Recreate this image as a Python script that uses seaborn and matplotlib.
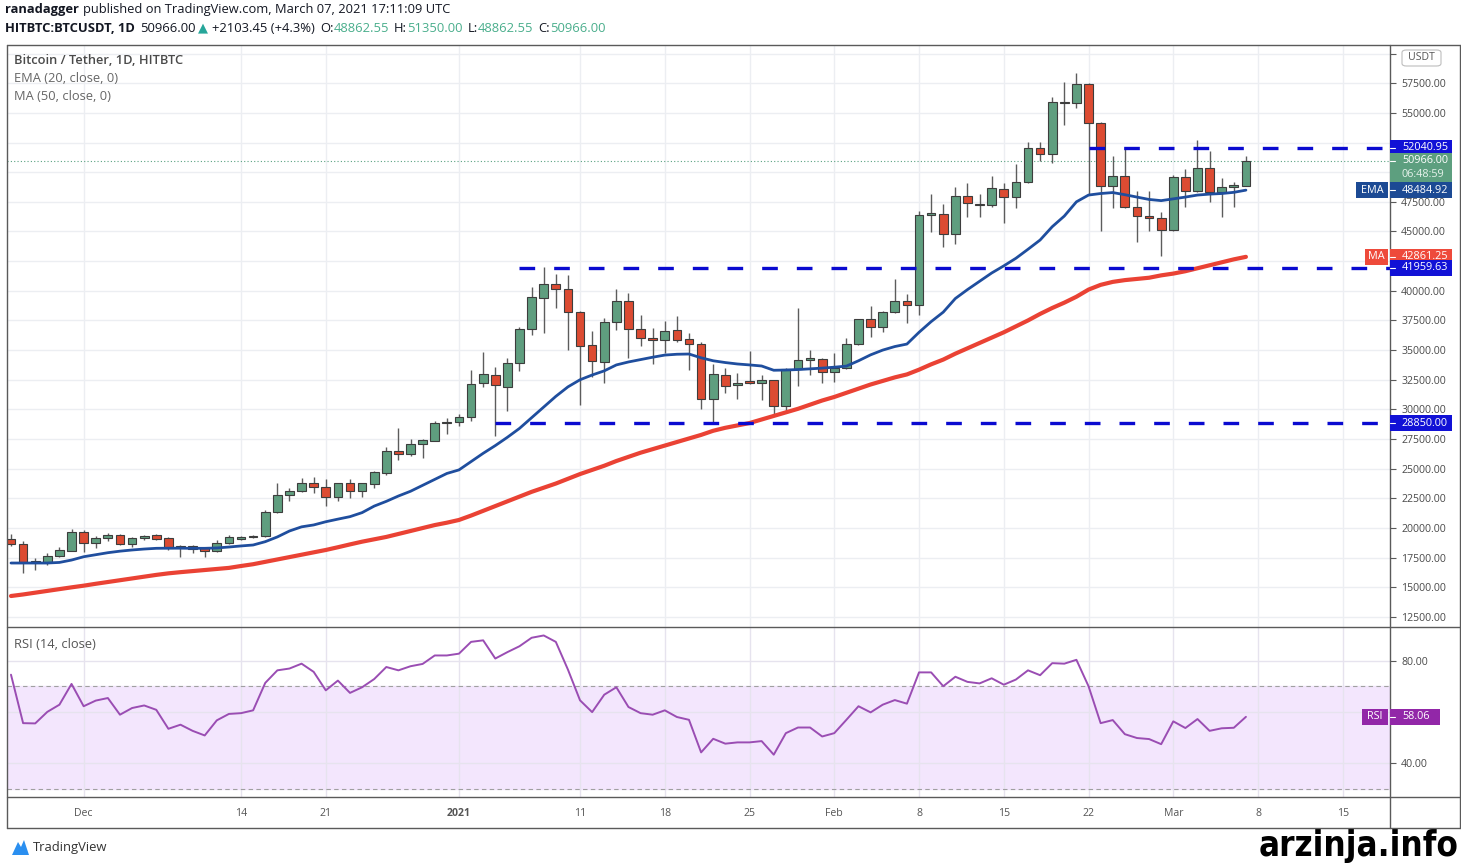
import numpy as np
import pandas as pd
import matplotlib
matplotlib.use("Agg")
import matplotlib.pyplot as plt
from matplotlib.lines import Line2D
from matplotlib.patches import Rectangle, FancyBboxPatch, Polygon
import seaborn as sns

# daily candles, HITBTC BTC/USDT
dates = pd.date_range("2020-11-25", "2021-03-07", freq="D")
opens = [19100, 18655, 17111, 17160, 17670, 18090, 19640, 18710, 19190, 19410,
         18650, 19130, 19410, 19190, 18380, 18490, 18290, 18060, 18760, 19050,
         19220, 19350, 21330, 22790, 23120, 23820, 23480, 22640, 23770, 23150,
         23710, 24660, 26520, 26210, 27060, 27360, 28830, 28910, 29330, 32200,
         32900, 31910, 33890, 36750, 39420, 40570, 40120, 38190, 35430, 34020,
         37390, 39160, 36750, 35940, 35850, 36690, 35910, 35510, 30850, 32900,
         32060, 32290, 32200, 32480, 30310, 33380, 34170, 34250, 33130, 33520,
         35490, 37620, 36920, 38240, 39140, 38800, 46390, 46470, 44760, 47990,
         47320, 47230, 48580, 47880, 49150, 52060, 51530, 55890, 55800, 57430,
         54120, 48860, 49680, 47090, 46300, 46110, 45120, 49570, 48410, 50380,
         48350, 48770, 48862.55]
highs = [19500, 18930, 17470, 17870, 18380, 19890, 19830, 19330, 19560, 19500,
         19230, 19410, 19500, 19270, 18600, 18600, 18400, 18990, 19410, 19330,
         19410, 21520, 23770, 23350, 24190, 24330, 24110, 23820, 24110, 23820,
         24800, 26860, 28410, 27480, 27480, 29050, 29250, 29590, 33320, 34860,
         33550, 34360, 36970, 40350, 41980, 41410, 41330, 38300, 36610, 37730,
         40120, 39790, 37960, 36840, 37480, 37870, 36420, 35700, 33830, 33470,
         33100, 34950, 32900, 32500, 33450, 38560, 35010, 34350, 34730, 35990,
         37650, 38720, 38300, 40970, 39730, 46750, 48160, 47320, 48720, 49060,
         48160, 49680, 49100, 50660, 52570, 52520, 56360, 57630, 58330, 57550,
         54200, 51390, 52150, 48440, 48440, 46670, 49760, 50240, 52710, 51780,
         49480, 49200, 51350]
lows = [18490, 16184, 16460, 16880, 17530, 18090, 18000, 18290, 18910, 18570,
        18430, 18990, 18990, 18150, 17530, 17870, 17530, 17990, 18680, 18990,
        19130, 19270, 21300, 22300, 23050, 22980, 21860, 22300, 22510, 22640,
        23350, 24470, 25740, 26070, 25880, 27300, 27930, 28600, 29050, 31920,
        27760, 29890, 33240, 36270, 36470, 38570, 35010, 30370, 32760, 32250,
        36690, 34310, 35350, 33830, 34780, 35700, 33320, 30010, 28830, 31360,
        30850, 32100, 30790, 29440, 29810, 31970, 32900, 32200, 32340, 33400,
        35430, 36130, 36550, 38150, 37310, 37960, 44930, 43660, 43940, 46190,
        46190, 47100, 45690, 47000, 49100, 50940, 50750, 53980, 55440, 48070,
        45040, 47000, 47000, 44140, 45040, 42960, 45000, 47040, 48300, 47510,
        46250, 47040, 48862.55]
closes = [18655, 17111, 17150, 17670, 18150, 19640, 18710, 19190, 19410, 18650,
          19130, 19330, 19100, 18290, 18510, 18210, 18060, 18760, 19220, 19270,
          19350, 21330, 22790, 23120, 23820, 23480, 22640, 23770, 23150, 23770,
          24750, 26520, 26210, 27060, 27420, 28830, 28910, 29330, 32120, 32960,
          32060, 33890, 36750, 39450, 40570, 40120, 38190, 35350, 34080, 37390,
          39160, 36750, 36050, 35850, 36610, 35850, 35510, 30850, 32960, 32000,
          32200, 32230, 32480, 30310, 33380, 34170, 34250, 33130, 33520, 35490,
          37620, 36920, 38240, 39160, 38800, 46390, 46450, 44760, 47990, 47380,
          47210, 48640, 47880, 49150, 52060, 51530, 55890, 55800, 57410, 54120,
          48860, 49680, 47090, 46300, 46110, 45120, 49570, 48410, 50330, 48350,
          48770, 48920, 50966]
ema20 = [17050, 17050, 17050, 17050, 17100, 17300, 17580, 17750, 17920, 18050,
         18150, 18230, 18290, 18300, 18300, 18290, 18290, 18320, 18400, 18490,
         18570, 18850, 19250, 19750, 20100, 20260, 20530, 20750, 20960, 21300,
         21850, 22250, 22700, 23100, 23600, 24100, 24600, 24900, 25600, 26300,
         26950, 27650, 28400, 29300, 30200, 31100, 31900, 32500, 32900, 33250,
         33750, 34000, 34200, 34400, 34580, 34650, 34670, 34350, 34100, 33950,
         33830, 33750, 33660, 33300, 33320, 33360, 33420, 33480, 33560, 33650,
         34100, 34600, 35000, 35300, 35510, 36500, 37400, 38200, 39350, 40100,
         40800, 41500, 42100, 42740, 43500, 44280, 45400, 46300, 47500, 48070,
         48200, 48280, 48100, 47900, 47700, 47600, 47750, 47900, 48070, 48150,
         48200, 48300, 48484.92]
ma50 = [14270, 14400, 14550, 14700, 14850, 15000, 15140, 15300, 15450, 15600,
        15750, 15900, 16050, 16180, 16280, 16370, 16460, 16550, 16640, 16800,
        16950, 17150, 17350, 17550, 17750, 17950, 18150, 18380, 18620, 18850,
        19050, 19250, 19500, 19750, 20000, 20250, 20450, 20680, 21050, 21450,
        21850, 22250, 22650, 23050, 23400, 23750, 24150, 24550, 24900, 25250,
        25650, 26000, 26350, 26650, 26950, 27250, 27550, 27850, 28200, 28450,
        28650, 28850, 29150, 29450, 29750, 30050, 30400, 30750, 31050, 31400,
        31750, 32100, 32400, 32700, 32950, 33350, 33800, 34200, 34700, 35150,
        35600, 36050, 36500, 37000, 37500, 38050, 38550, 39000, 39500, 40100,
        40500, 40750, 40900, 41000, 41100, 41300, 41450, 41650, 41900, 42150,
        42400, 42650, 42861.25]
rsi14 = [74.5, 55.6, 55.5, 60.0, 62.8, 70.9, 62.2, 64.4, 65.4, 58.9,
         61.5, 62.5, 60.8, 53.4, 55.0, 52.6, 50.8, 56.7, 59.2, 59.5,
         60.6, 71.3, 76.2, 76.9, 78.8, 75.6, 68.4, 72.2, 67.4, 69.6,
         72.8, 77.5, 76.2, 77.8, 78.7, 82.0, 82.0, 82.7, 87.3, 87.9,
         80.8, 83.3, 85.6, 88.9, 89.8, 87.3, 76.5, 64.5, 59.9, 66.7,
         69.6, 61.9, 59.5, 58.9, 60.6, 58.0, 56.9, 44.2, 49.5, 47.6,
         48.1, 48.1, 48.6, 43.3, 51.7, 53.9, 53.9, 50.4, 51.7, 56.9,
         62.2, 59.8, 62.8, 64.6, 63.2, 75.4, 75.4, 70.0, 73.7, 71.7,
         71.1, 73.1, 70.6, 72.6, 76.2, 74.3, 79.0, 78.8, 80.3, 70.0,
         55.6, 56.8, 51.3, 49.8, 49.4, 47.4, 56.3, 53.7, 57.2, 52.6,
         53.6, 53.8, 58.06]

# horizontal levels and the day each one starts
levels = [52040.95, 41959.63, 28850.00]
level_starts = ["2021-02-22", "2021-01-06", "2021-01-04"]

tick_dates = ["2020-12-01", "2020-12-14", "2020-12-21", "2021-01-01", "2021-01-11",
              "2021-01-18", "2021-01-25", "2021-02-01", "2021-02-08", "2021-02-15",
              "2021-02-22", "2021-03-01", "2021-03-08", "2021-03-15"]
tick_labels = ["Dec", "14", "21", "2021", "11", "18", "25", "Feb", "8", "15",
               "22", "Mar", "8", "15"]
# axis labels that the right-hand tags cover up
hidden_prices = [60000, 52500, 50000, 42500]
hidden_rsi = [60]

UP, DOWN = "#5f9e7f", "#dc4b32"
EDGE = "#3d3d3d"
GRID = "#eceef2"
FRAME = "#5a5a5a"
LVL = "#0a0ad0"

W, H = 1461, 863
sns.set_theme(style="white")
plt.rcParams["font.family"] = ["Open Sans", "DejaVu Sans"]


def fx(px):
    return px / W


def fy(py):
    return 1 - py / H


fig = plt.figure(figsize=(W / 100, H / 100), dpi=100)
ax = fig.add_axes([fx(7), fy(627), fx(1390) - fx(7), fy(45) - fy(627)])
axr = fig.add_axes([fx(7), fy(797), fx(1390) - fx(7), fy(627) - fy(797)], sharex=ax)

xs = np.arange(len(dates))
o, h, l, c = (np.array(v, dtype=float) for v in (opens, highs, lows, closes))
xlim = (-0.33, 113.9)

# price panel
ax.vlines(xs, l, h, color="#5c5c5c", lw=1, zorder=3)
body = np.maximum(np.abs(c - o), 130)
ax.bar(xs, body, bottom=np.minimum(o, c), width=0.72,
       color=np.where(c >= o, UP, DOWN), edgecolor=EDGE, linewidth=0.8, zorder=4)
sns.lineplot(x=xs, y=ema20, ax=ax, color="#1f4e9e", lw=2, zorder=5, legend=False)
sns.lineplot(x=xs, y=ma50, ax=ax, color="#ea4234", lw=3, zorder=5, legend=False)

for lvl, start in zip(levels, level_starts):
    s = (pd.Timestamp(start) - dates[0]).days
    ax.plot([s, xlim[1]], [lvl, lvl], color=LVL, lw=2.4,
            ls=(0, (4.7, 5.7)), zorder=6, solid_capstyle="butt")
ax.axhline(closes[-1], color="#5aa282", lw=0.8, ls=(0, (1, 2)), zorder=2)

tick_pos = [(pd.Timestamp(d) - dates[0]).days for d in tick_dates]
ax.set_xlim(*xlim)
ax.set_ylim(11657, 60720)
yt = np.arange(12500, 60001, 2500)
ax.set_yticks(yt)
ax.set_yticklabels(["" if v in hidden_prices else f"{v:.2f}" for v in yt])
ax.yaxis.tick_right()
ax.set_xticks(tick_pos)
ax.grid(True, color=GRID, lw=1)
ax.tick_params(axis="y", length=4, width=0.8, color=FRAME, labelsize=7.6,
               labelcolor="#4a4a4a", pad=4, direction="out", right=True)
ax.tick_params(axis="x", labelbottom=False, length=0)
ax.set_xlabel("")
ax.set_ylabel("")

# rsi panel
axr.axhspan(30, 70, color="#f3e6fd", zorder=0)
for v in (30, 70):
    axr.axhline(v, color="#a0a0a0", lw=0.8, ls=(0, (4, 3)), zorder=1)
sns.lineplot(x=xs, y=rsi14, ax=axr, color="#9a4db3", lw=1.4, zorder=5, legend=False)
axr.set_ylim(26.8, 93.1)
rt = [40, 60, 80]
axr.set_yticks(rt)
axr.set_yticklabels(["" if v in hidden_rsi else f"{v:.2f}" for v in rt])
axr.yaxis.tick_right()
axr.grid(True, color="#e6e3ee", lw=1)
axr.tick_params(axis="y", length=4, width=0.8, color=FRAME, labelsize=7.6,
                labelcolor="#4a4a4a", pad=4, direction="out", right=True)
axr.set_xticks(tick_pos)
axr.set_xticklabels(tick_labels)
axr.tick_params(axis="x", length=0, labelsize=7.6, labelcolor="#555555", pad=8)
for lab in axr.get_xticklabels():
    if lab.get_text() == "2021":
        lab.set_fontweight("bold")
axr.set_xlabel("")
axr.set_ylabel("")

for a in (ax, axr):
    for sp in a.spines.values():
        sp.set_visible(False)
    a.set_facecolor("white")

# frame lines
for (x0, y0, x1, y1) in [(7, 45, 1460, 45), (7, 627, 1460, 627), (7, 797, 1460, 797),
                         (7, 828, 1460, 828), (7, 45, 7, 828), (1460, 45, 1460, 828),
                         (1390, 45, 1390, 828)]:
    fig.add_artist(Line2D([fx(x0), fx(x1)], [fy(y0), fy(y1)], color=FRAME, lw=1,
                          transform=fig.transFigure, zorder=8))


# price tags on the right axis
def tag(axis, val, text, fc, x1=1452, h=16, left=None, left_x0=None, sub=None):
    yd = axis.transData.transform((0, val))[1] / H
    hh = h / H
    if sub:
        fig.add_artist(Rectangle((fx(1390), yd - hh / 2 - 14 / H), (x1 - 1390) / W, hh + 14 / H,
                                 transform=fig.transFigure, fc=fc, ec="none", zorder=10))
        fig.text(fx(1402), yd - 14 / H, sub, color="#e6f2eb", fontsize=7.8,
                 va="center", ha="left", zorder=11)
    else:
        fig.add_artist(Rectangle((fx(1390), yd - hh / 2), (x1 - 1390) / W, hh,
                                 transform=fig.transFigure, fc=fc, ec="none", zorder=10))
    fig.text(fx(1402), yd, text, color="white", fontsize=7.8, va="center", ha="left", zorder=11)
    fig.add_artist(Line2D([fx(1390), fx(1395)], [yd, yd], color="white", lw=0.8,
                          transform=fig.transFigure, zorder=11))
    if left:
        fig.add_artist(Rectangle((fx(left_x0), yd - hh / 2), (1388 - left_x0) / W, hh,
                                 transform=fig.transFigure, fc=fc, ec="none", zorder=10))
        fig.text(fx((left_x0 + 1388) / 2), yd, left, color="white", fontsize=7.8,
                 va="center", ha="center", zorder=11)


tag(ax, levels[0], f"{levels[0]:.2f}", "#1111d6")
tag(ax, closes[-1], f"{closes[-1]:.2f}", "#5d9f7f", sub="06:48:59")
tag(ax, ema20[-1], f"{ema20[-1]:.2f}", "#1c4a94", left="EMA", left_x0=1356)
tag(ax, ma50[-1], f"{ma50[-1]:.2f}", "#ee4a3b", left="MA", left_x0=1365)
tag(ax, levels[1], f"{levels[1]:.2f}", "#1111d6")
tag(ax, levels[2], f"{levels[2]:.2f}", "#1111d6")
tag(axr, rsi14[-1], f"{rsi14[-1]:.2f}", "#9227a8", x1=1440, left="RSI", left_x0=1362)

fig.add_artist(FancyBboxPatch((fx(1402), fy(66)), fx(39), 16 / H,
                              boxstyle="round,pad=0,rounding_size=0.003",
                              transform=fig.transFigure, fc="white", ec="#bdbdbd",
                              lw=0.8, zorder=10))
fig.text(fx(1421.5), fy(58), "USDT", color="#555555", fontsize=7.6,
         va="center", ha="center", zorder=11)

# header and legends
renderer = fig.canvas.get_renderer()


def run_text(x, y, parts, size):
    for s, color, weight, gap in parts:
        t = fig.text(fx(x), fy(y), s, color=color, fontsize=size, fontweight=weight,
                     va="center", ha="left")
        x += t.get_window_extent(renderer=renderer).width + gap


DARK = "#131722"
TEAL = "#4aae8c"
run_text(5, 10, [("ranadagger", DARK, "bold", 4),
                 ("published on TradingView.com, March 07, 2021 17:11:09 UTC", DARK, "normal", 0)], 9.3)
run_text(5, 28, [("HITBTC:BTCUSDT, 1D", DARK, "bold", 5),
                 ("50966.00", DARK, "normal", 3),
                 ("\u25b2", "#26a69a", "normal", 4),
                 ("+2103.45 (+4.3%)", DARK, "normal", 5),
                 ("O:", DARK, "normal", 0), ("48862.55", TEAL, "normal", 5),
                 ("H:", DARK, "normal", 0), ("51350.00", TEAL, "normal", 5),
                 ("L:", DARK, "normal", 0), ("48862.55", TEAL, "normal", 5),
                 ("C:", DARK, "normal", 0), ("50966.00", TEAL, "normal", 0)], 9.4)

fig.text(fx(14), fy(61), "Bitcoin / Tether, 1D, HITBTC", color="#4a4a4a",
         fontsize=9.3, fontweight="semibold", va="center")
fig.text(fx(14), fy(79), "EMA (20, close, 0)", color="#666666", fontsize=9.3, va="center")
fig.text(fx(14), fy(97), "MA (50, close, 0)", color="#666666", fontsize=9.3, va="center")
fig.text(fx(14), fy(644), "RSI (14, close)", color="#555555", fontsize=9.3, va="center")

# footer
fig.add_artist(Polygon([(fx(12), fy(855)), (fx(18), fy(842)), (fx(21), fy(847)),
                        (fx(24), fy(840)), (fx(29), fy(855))], closed=True,
                       transform=fig.transFigure, fc="#2a8ff0", ec="none"))
fig.text(fx(33), fy(847), "TradingView", color="#333333", fontsize=9.4, va="center")
fig.text(fx(1458), fy(846), "arzinja.info", color="black", fontsize=25,
         fontweight="bold", fontstretch="condensed",
         family=["Liberation Sans Narrow", "DejaVu Sans"], ha="right", va="center")

fig.savefig("out.png", dpi=100, facecolor="white")
